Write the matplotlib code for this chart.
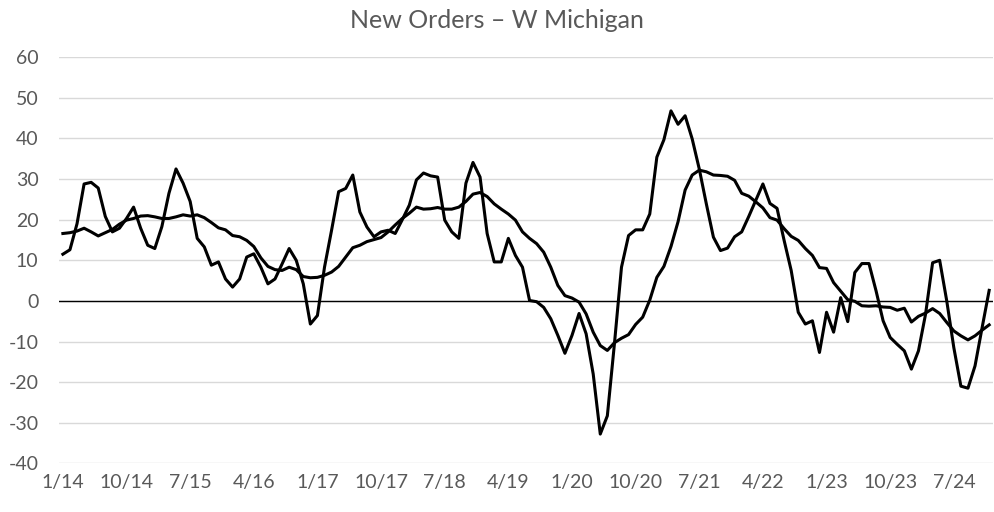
import numpy as np
import matplotlib.pyplot as plt

# monthly readings, Jan 2014 - Dec 2024
months = [f"{m}/{y % 100}" for y in range(2014, 2025) for m in range(1, 13)]

new_orders = [
    11.5, 12.6, 19.0, 28.8, 29.2, 27.8, 20.8, 17.0, 17.9, 20.3, 23.1, 17.9,
    13.7, 12.9, 18.3, 26.5, 32.5, 29.0, 24.5, 15.4, 13.3, 8.8, 9.6, 5.4,
    3.4, 5.4, 10.8, 11.6, 8.3, 4.2, 5.4, 9.1, 12.9, 10.0, 4.2, -5.7,
    -3.6, 8.3, 17.4, 26.9, 27.7, 31.0, 21.9, 18.2, 15.8, 17.0, 17.4, 16.6,
    20.0, 23.6, 29.8, 31.5, 30.8, 30.5, 19.9, 17.0, 15.4, 29.0, 34.1, 30.5,
    16.6, 9.6, 9.6, 15.4, 11.2, 8.3, 0.1, -0.2, -1.6, -4.4, -8.5, -12.9,
    -8.5, -3.1, -8.1, -18.0, -32.8, -28.3, -10.6, 8.3, 16.1, 17.5, 17.5, 21.4,
    35.4, 39.7, 46.8, 43.5, 45.6, 39.9, 32.5, 23.9, 15.7, 12.4, 13.0, 15.8,
    17.0, 20.8, 24.8, 28.8, 24.0, 22.8, 14.9, 7.5, -2.8, -5.7, -4.9, -12.7,
    -2.8, -7.7, 0.8, -5.1, 7.0, 9.2, 9.2, 2.5, -4.9, -9.0, -10.7, -12.3,
    -16.8, -12.3, -3.3, 9.4, 10.0, 0.0, -11.5, -21.0, -21.5, -16.0, -6.6, 2.6,
]

smoothed = [
    16.6, 16.8, 17.2, 17.9, 17.0, 16.0, 16.8, 17.6, 18.9, 19.9, 20.3, 20.9,
    21.0, 20.7, 20.3, 20.3, 20.7, 21.2, 20.9, 21.2, 20.5, 19.3, 18.0, 17.5,
    16.1, 15.8, 14.9, 13.4, 10.6, 8.5, 7.7, 7.5, 8.3, 7.7, 6.0, 5.7,
    5.8, 6.3, 7.1, 8.5, 10.8, 13.1, 13.7, 14.6, 15.1, 15.6, 17.0, 18.7,
    20.3, 21.6, 23.1, 22.6, 22.7, 23.0, 22.6, 22.6, 23.1, 24.5, 26.3, 26.7,
    25.7, 23.9, 22.6, 21.4, 19.9, 17.0, 15.4, 14.1, 12.0, 8.3, 3.8, 1.3,
    0.7, -0.3, -3.2, -7.7, -11.0, -12.2, -10.3, -9.2, -8.3, -5.8, -4.0, 0.2,
    5.8, 8.5, 13.4, 19.5, 27.3, 31.0, 32.2, 31.8, 31.0, 30.9, 30.7, 29.7,
    26.5, 25.8, 24.4, 22.9, 20.5, 19.9, 17.8, 15.9, 14.9, 12.9, 11.2, 8.2,
    8.0, 4.5, 2.4, 0.3, -0.1, -1.2, -1.3, -1.2, -1.5, -1.6, -2.3, -1.8,
    -5.2, -3.8, -3.0, -1.9, -3.1, -5.3, -7.4, -8.6, -9.6, -8.6, -7.2, -5.9,
]

yticks = list(range(-40, 61, 10))

plt.rcParams['font.family'] = ['Lato', 'DejaVu Sans']
grey = '#595959'

fig = plt.figure(figsize=(9.94, 5.12), dpi=100)
ax = fig.add_axes([0.0597, 0.0951, 0.939, 0.793])

x = np.arange(len(months))
ax.plot(x, smoothed, color='black', lw=2.2, solid_joinstyle='round')
ax.plot(x, new_orders, color='black', lw=2.2, solid_joinstyle='round')
ax.axhline(0, color='black', lw=1.0, zorder=1)

ax.set_xlim(-0.5, len(months) - 0.5)
ax.set_ylim(-40, 60)
ax.set_yticks(yticks)
ax.set_yticklabels([str(v) for v in yticks])
ax.yaxis.grid(True, color='#d9d9d9', lw=1.0)
ax.set_axisbelow(True)

ax.set_xticks(x[::9])
ax.set_xticklabels(months[::9])

for s in ax.spines.values():
    s.set_visible(False)
ax.tick_params(axis='both', length=0, colors=grey, labelsize=14)
ax.tick_params(axis='y', pad=15)
ax.tick_params(axis='x', pad=8)

fig.text(0.5, 0.96, 'New Orders – W Michigan', ha='center', va='center',
         color=grey, fontsize=18)

fig.savefig('out.png', dpi=100)
